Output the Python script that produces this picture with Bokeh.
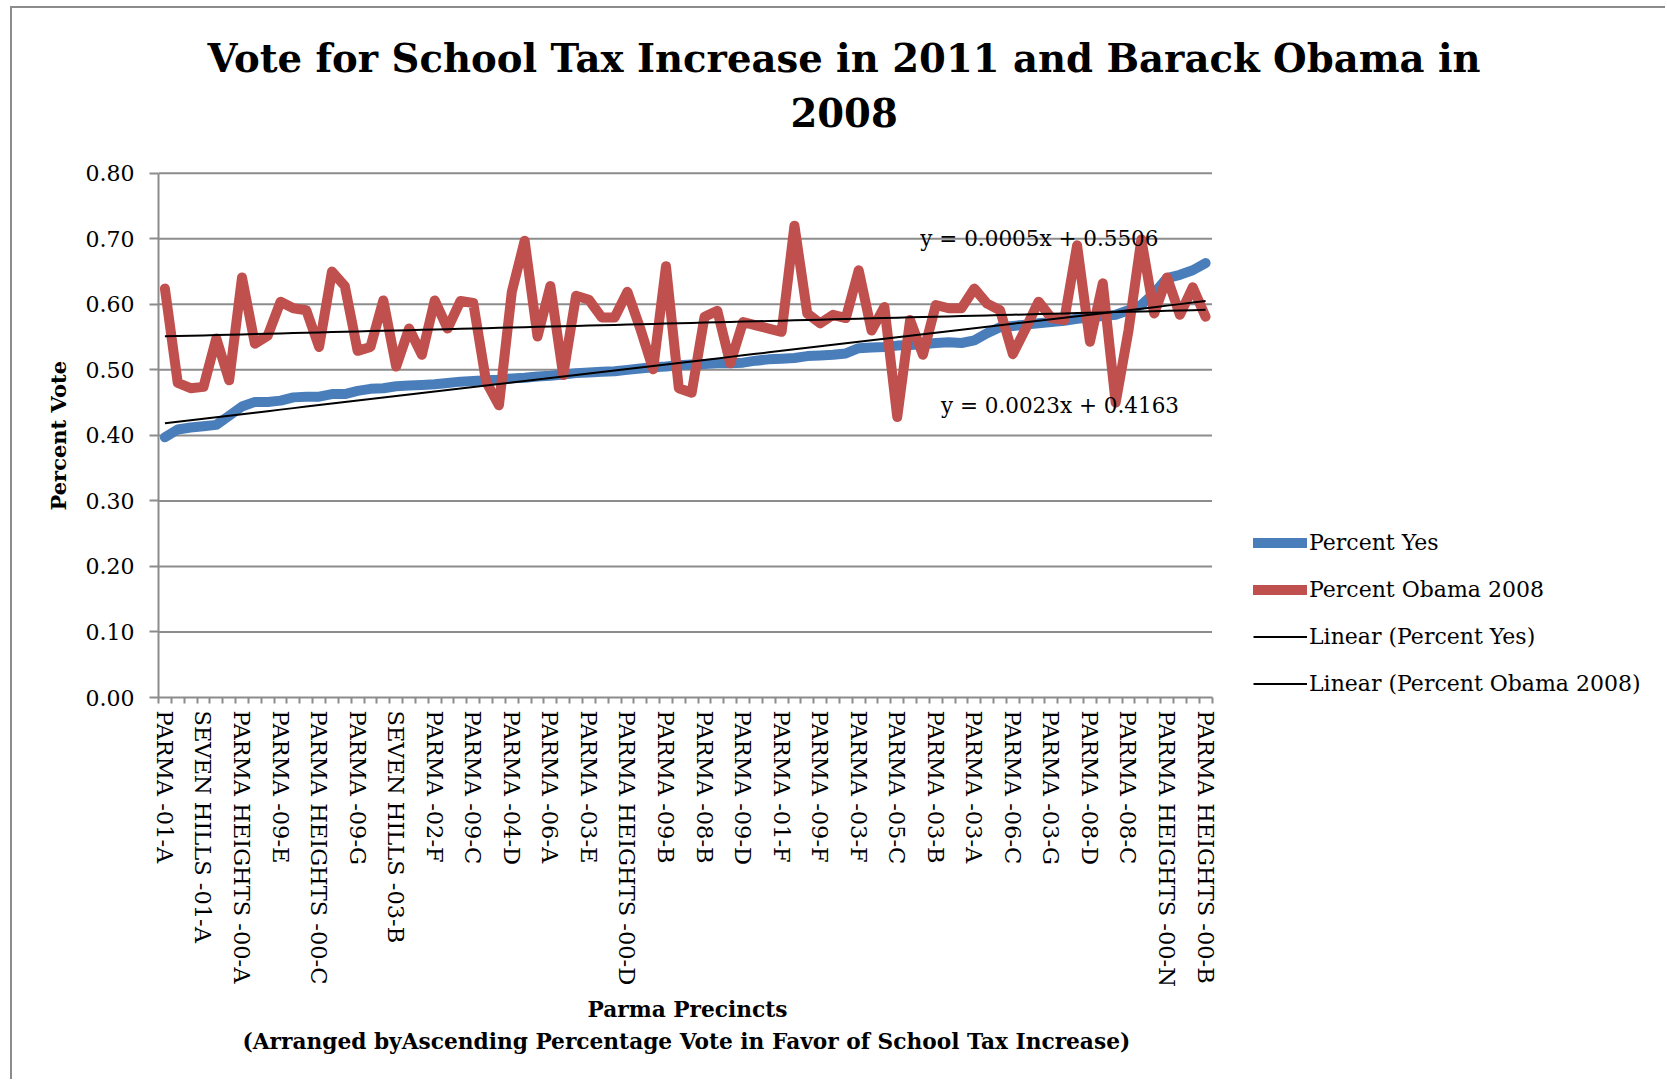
import numpy as np
from bokeh.plotting import figure
from bokeh.models import (FixedTicker, Label, Legend, LegendItem, Title,
                          Range1d, NumeralTickFormatter)
from bokeh.embed import file_html
from bokeh.resources import INLINE

# ---------------- data ----------------
tick_labels = [
    "PARMA -01-A", "SEVEN HILLS -01-A", "PARMA HEIGHTS -00-A", "PARMA -09-E",
    "PARMA HEIGHTS -00-C", "PARMA -09-G", "SEVEN HILLS -03-B", "PARMA -02-F",
    "PARMA -09-C", "PARMA -04-D", "PARMA -06-A", "PARMA -03-E",
    "PARMA HEIGHTS -00-D", "PARMA -09-B", "PARMA -08-B", "PARMA -09-D",
    "PARMA -01-F", "PARMA -09-F", "PARMA -03-F", "PARMA -05-C",
    "PARMA -03-B", "PARMA -03-A", "PARMA -06-C", "PARMA -03-G",
    "PARMA -08-D", "PARMA -08-C", "PARMA HEIGHTS -00-N", "PARMA HEIGHTS -00-B",
]
label_step = 3

percent_yes = [
    0.397, 0.409, 0.412, 0.414, 0.416, 0.430, 0.444, 0.451, 0.451, 0.453,
    0.458, 0.459, 0.459, 0.463, 0.463, 0.468, 0.471, 0.472, 0.475, 0.476,
    0.477, 0.478, 0.480, 0.482, 0.483, 0.484, 0.485, 0.487, 0.488, 0.490,
    0.491, 0.493, 0.495, 0.496, 0.497, 0.498, 0.500, 0.502, 0.504, 0.505,
    0.507, 0.508, 0.509, 0.510, 0.510, 0.511, 0.514, 0.516, 0.517, 0.518,
    0.521, 0.522, 0.523, 0.525, 0.533, 0.534, 0.535, 0.537, 0.538, 0.539,
    0.541, 0.542, 0.541, 0.545, 0.556, 0.565, 0.567, 0.569, 0.571, 0.573,
    0.575, 0.578, 0.580, 0.582, 0.584, 0.591, 0.599, 0.617, 0.640, 0.645,
    0.652, 0.663,
]

percent_obama = [
    0.624, 0.480, 0.472, 0.474, 0.548, 0.484, 0.641, 0.540, 0.552, 0.604,
    0.594, 0.591, 0.535, 0.650, 0.628, 0.529, 0.535, 0.606, 0.505, 0.563,
    0.523, 0.606, 0.563, 0.605, 0.602, 0.482, 0.446, 0.619, 0.697, 0.551,
    0.628, 0.492, 0.613, 0.607, 0.580, 0.580, 0.619, 0.563, 0.501, 0.658,
    0.472, 0.465, 0.581, 0.590, 0.510, 0.573, 0.568, 0.563, 0.558, 0.720,
    0.586, 0.571, 0.584, 0.579, 0.652, 0.560, 0.596, 0.428, 0.576, 0.523,
    0.599, 0.594, 0.594, 0.624, 0.601, 0.591, 0.524, 0.563, 0.604, 0.579,
    0.576, 0.690, 0.543, 0.632, 0.450, 0.560, 0.699, 0.586, 0.641, 0.584,
    0.626, 0.581,
]

yes_slope, yes_intercept = 0.0023, 0.4163
obama_slope, obama_intercept = 0.0005, 0.5506
y_ticks = [0.0, 0.1, 0.2, 0.3, 0.4, 0.5, 0.6, 0.7, 0.8]

title_lines = ["Vote for School Tax Increase in 2011 and Barack Obama in", "2008"]
y_title = "Percent  Vote"
x_title_lines = ["Parma Precincts",
                 "(Arranged byAscending Percentage Vote in Favor of School Tax Increase)"]
eq_yes = "y = 0.0023x + 0.4163"
eq_obama = "y = 0.0005x + 0.5506"

# ---------------- layout constants (page pixels) ----------------
PAGE_W, PAGE_H = 1667, 1081
OX, OY = 12, 8              # where the chart box (inside its border) starts
FRAME_LEFT = 158            # left edge of plotting area
FRAME_BOTTOM = 697          # bottom edge of plotting area
PLOT_W = 1053.5             # visible data area width
PLOT_H = 655.3              # pixels for a value span of 1.0

W, H = PAGE_W - OX, PAGE_H - OY
border_left = FRAME_LEFT - OX
frame_h = FRAME_BOTTOM - OY
border_bottom = H - frame_h

n = len(percent_yes)
xs = list(range(n))
yes_trend = [yes_slope * (i + 1) + yes_intercept for i in xs]
obama_trend = [obama_slope * (i + 1) + obama_intercept for i in xs]

frame_w = W - border_left
px_per_cat = PLOT_W / n
x_end = -0.5 + frame_w / px_per_cat
y_end = frame_h / PLOT_H

SERIF = "DejaVu Serif"
GRID = "#8c8c8c"
BLUE = "#4A7EBB"
RED = "#C0504D"

p = figure(width=W, height=H, output_backend="svg", toolbar_location=None,
           x_range=Range1d(-0.5, x_end), y_range=Range1d(0, y_end))
p.margin = (OY - 2, 0, 0, OX - 2)
p.styles = {"border-left": "2px solid #8c8c8c", "border-top": "2px solid #8c8c8c"}
p.min_border_left = border_left
p.min_border_right = 0
p.min_border_top = 0
p.min_border_bottom = border_bottom
p.outline_line_color = None
p.background_fill_color = "white"
p.border_fill_color = "white"
p.xgrid.grid_line_color = None
p.ygrid.grid_line_color = None

# horizontal gridlines limited to the data area
grid_y = y_ticks[1:]
p.segment(x0=[-0.5] * len(grid_y), x1=[n - 0.5] * len(grid_y), y0=grid_y, y1=grid_y,
          line_color=GRID, line_width=2)

# y axis
ya = p.yaxis[0]
ya.bounds = (y_ticks[0], y_ticks[-1])
ya.ticker = FixedTicker(ticks=y_ticks)
ya.formatter = NumeralTickFormatter(format="0.00")
ya.axis_line_color = GRID
ya.axis_line_width = 2
ya.major_tick_line_color = GRID
ya.major_tick_line_width = 2
ya.major_tick_out = 9
ya.major_tick_in = 0
ya.minor_tick_line_color = None
ya.major_label_text_font = SERIF
ya.major_label_text_font_size = "22px"
ya.major_label_text_color = "black"
ya.major_label_standoff = 15

# x axis
label_pos = list(range(0, n, label_step))[:len(tick_labels)]
xa = p.xaxis[0]
xa.bounds = (-0.5, n - 0.5)
xa.ticker = FixedTicker(ticks=label_pos, minor_ticks=[i - 0.5 for i in range(n + 1)])
xa.major_label_overrides = {pos: lab for pos, lab in zip(label_pos, tick_labels)}
xa.major_label_orientation = "vertical"
xa.major_tick_out = 0
xa.major_tick_in = 0
xa.major_tick_line_color = None
xa.minor_tick_out = 6
xa.minor_tick_in = 0
xa.minor_tick_line_color = GRID
xa.minor_tick_line_width = 2
xa.axis_line_color = GRID
xa.axis_line_width = 2
xa.major_label_text_font = SERIF
xa.major_label_text_font_size = "22.5px"
xa.major_label_text_color = "black"
xa.major_label_standoff = 7

# series
r_yes = p.line(xs, percent_yes, line_color=BLUE, line_width=10,
               line_join="round", line_cap="round")
r_obama = p.line(xs, percent_obama, line_color=RED, line_width=10,
                 line_join="round", line_cap="round")
r_yes_t = p.line(xs, yes_trend, line_color="black", line_width=2)
r_obama_t = p.line(xs, obama_trend, line_color="black", line_width=2)

# equations
p.add_layout(Label(x=58.8, y=0.70, text=eq_obama, text_font=SERIF,
                   text_font_size="21.5px", text_baseline="middle", text_align="left",
                   text_color="black"))
p.add_layout(Label(x=60.4, y=0.445, text=eq_yes, text_font=SERIF,
                   text_font_size="21.5px", text_baseline="middle", text_align="left",
                   text_color="black"))

# legend
legend = Legend(items=[
    LegendItem(label="Percent Yes", renderers=[r_yes]),
    LegendItem(label="Percent Obama 2008", renderers=[r_obama]),
    LegendItem(label="Linear (Percent Yes)", renderers=[r_yes_t]),
    LegendItem(label="Linear (Percent Obama 2008)", renderers=[r_obama_t]),
], location=(1095, 0))
legend.glyph_width = 54
legend.glyph_height = 27
legend.label_height = 27
legend.spacing = 20
legend.padding = 0
legend.margin = 0
legend.label_standoff = 2
legend.label_text_font = SERIF
legend.label_text_font_size = "22px"
legend.label_text_color = "black"
legend.border_line_color = None
legend.background_fill_alpha = 0
p.add_layout(legend)

# main title (screen units from the plotting area's bottom-left)
title_cx = 843.6 - FRAME_LEFT
p.add_layout(Label(x=title_cx, y=FRAME_BOTTOM - 58, x_units="screen", y_units="screen",
                   text=title_lines[0], text_font=SERIF, text_font_style="bold",
                   text_font_size="38.6px", text_align="center", text_baseline="middle",
                   text_color="black"))
p.add_layout(Label(x=title_cx, y=FRAME_BOTTOM - 112, x_units="screen", y_units="screen",
                   text=title_lines[1], text_font=SERIF, text_font_style="bold",
                   text_font_size="38.6px", text_align="center", text_baseline="middle",
                   text_color="black"))

# y-axis title (left panel)
p.add_layout(Title(text=y_title, align="left", offset=187, text_font=SERIF,
                   text_font_style="bold", text_font_size="21px", text_color="black",
                   standoff=24), "left")

# x-axis titles (below panel, stacked outward)
p.add_layout(Title(text=x_title_lines[0], align="left", offset=429, text_font=SERIF,
                   text_font_style="bold", text_font_size="21.7px", text_color="black",
                   standoff=10), "below")
p.add_layout(Title(text=x_title_lines[1], align="left", offset=84, text_font=SERIF,
                   text_font_style="bold", text_font_size="21.7px", text_color="black",
                   standoff=0), "below")

open("out.html", "w").write(file_html(p, INLINE))
